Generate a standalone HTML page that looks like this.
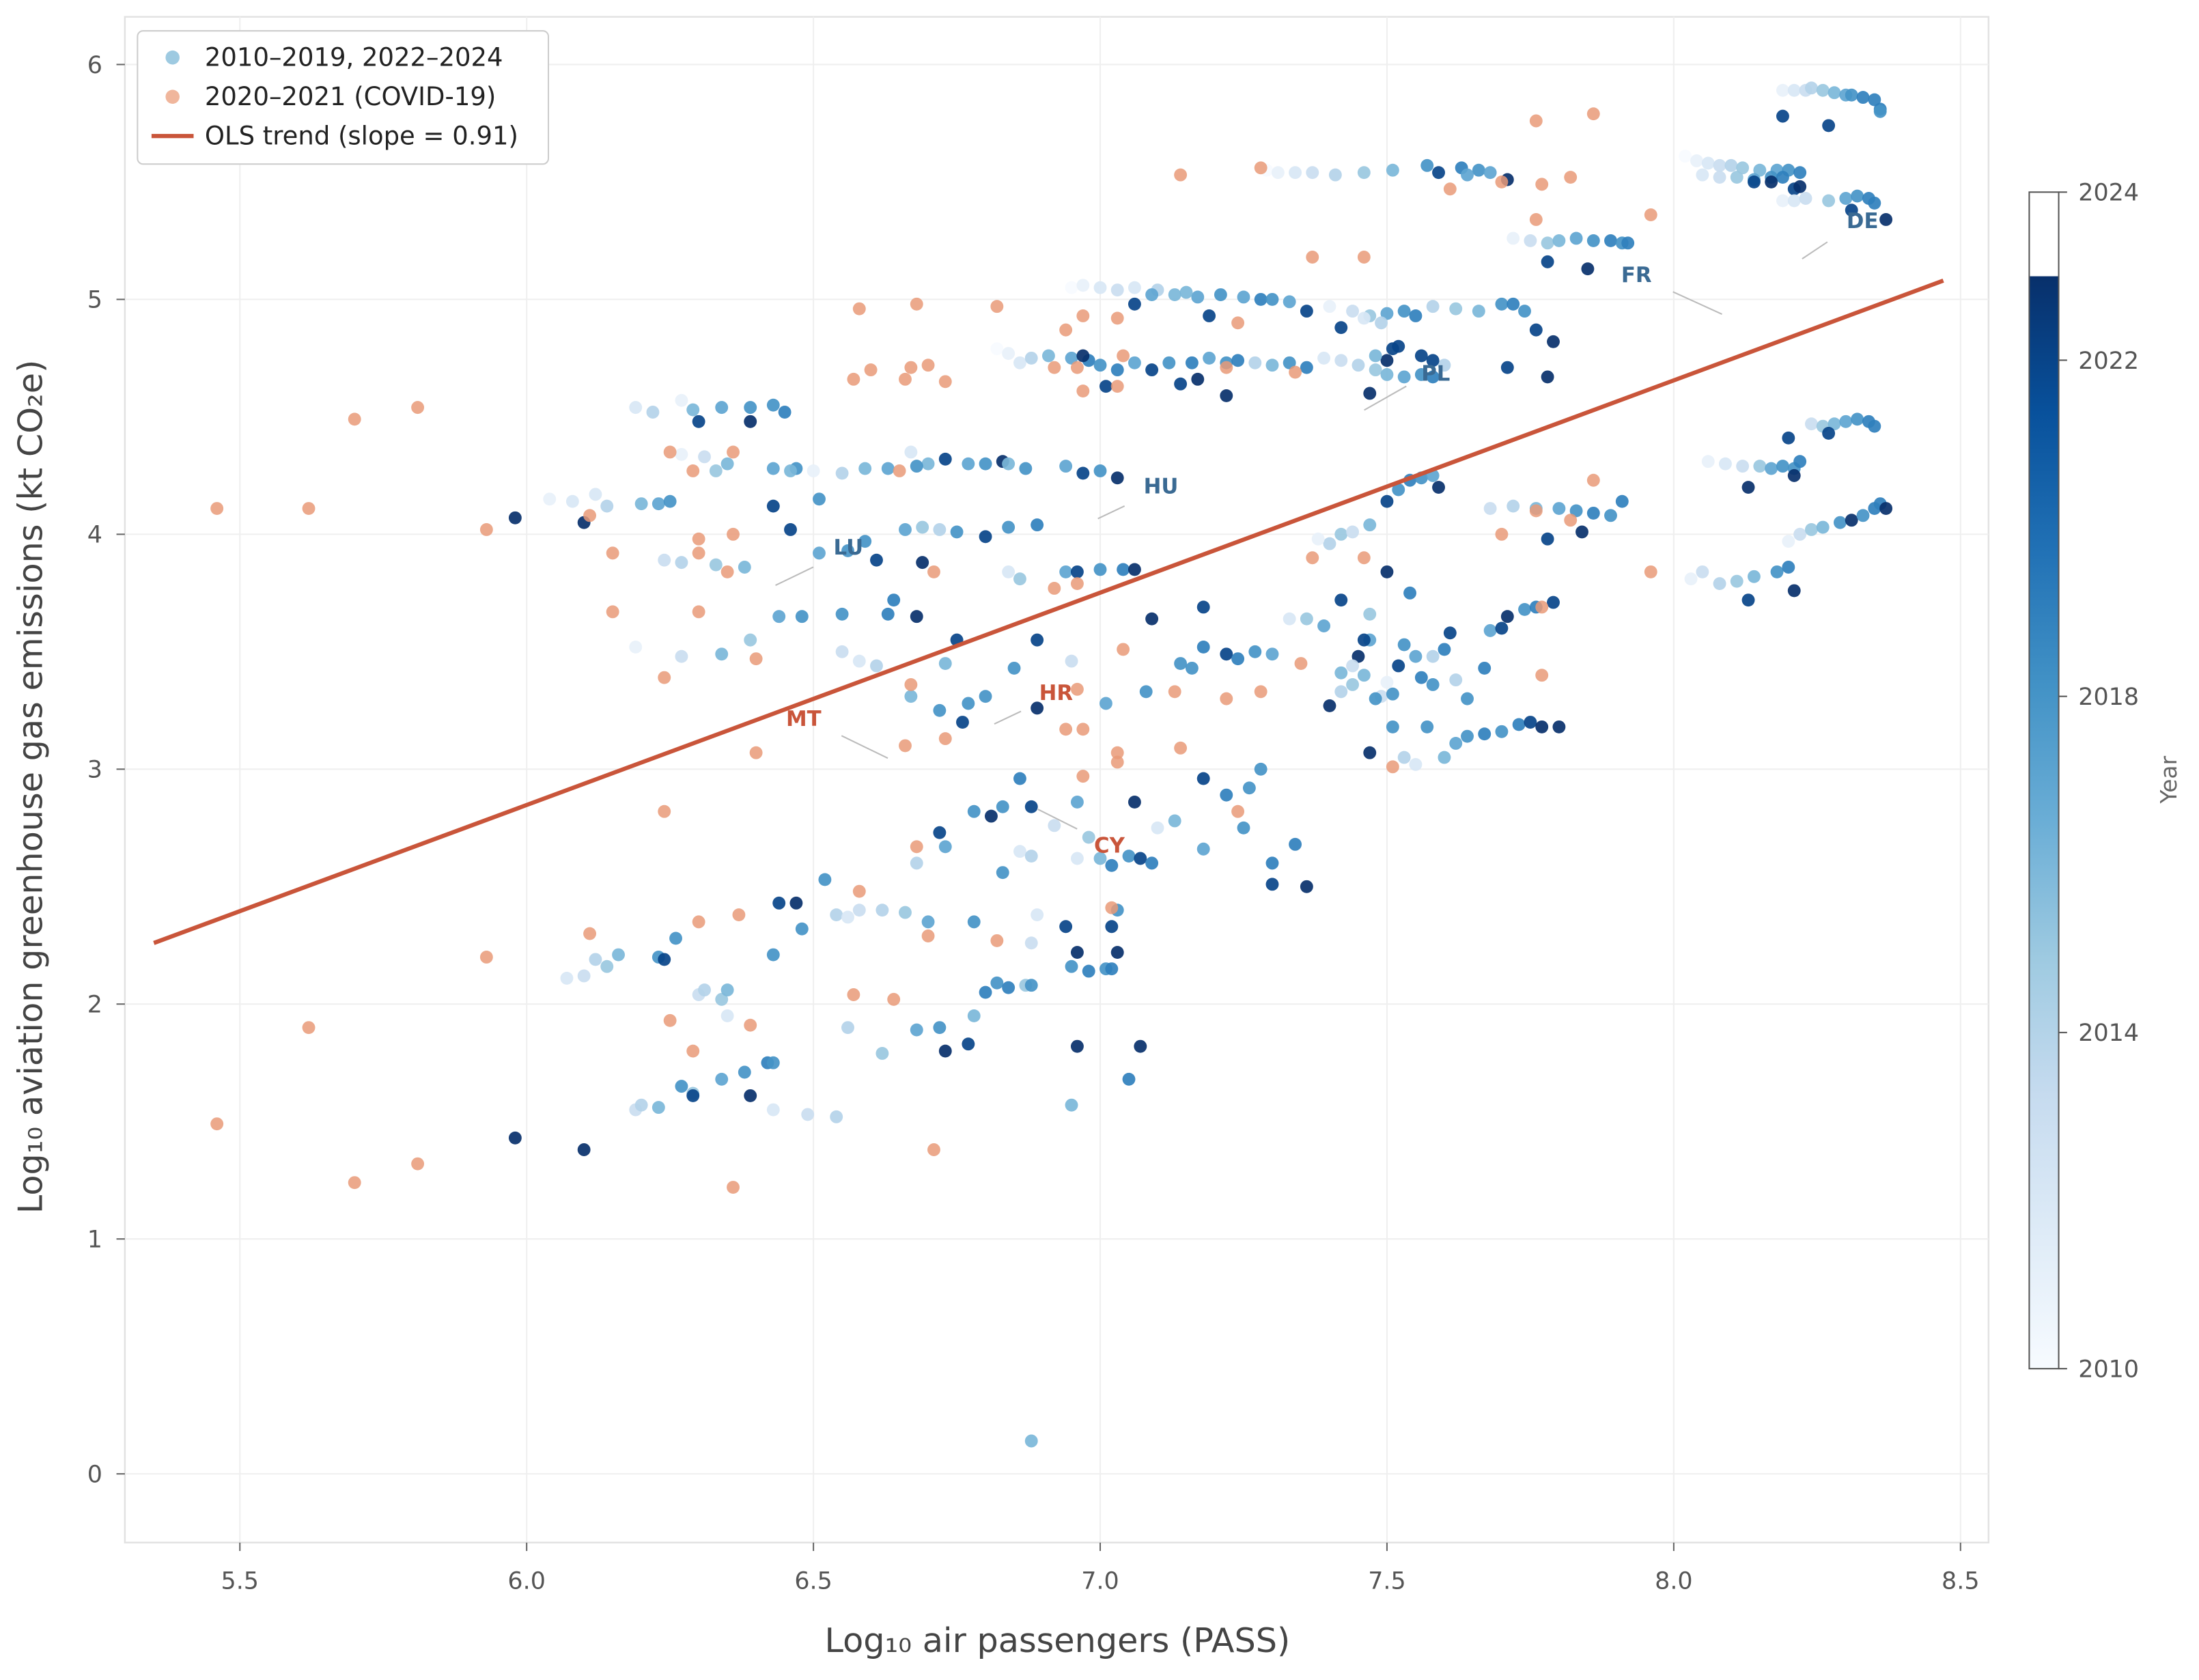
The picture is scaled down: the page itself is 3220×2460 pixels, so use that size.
<!DOCTYPE html>
<html><head><meta charset="utf-8"><style>
html,body{margin:0;padding:0;background:#fff}
svg{display:block;font-family:"DejaVu Sans","Liberation Sans",sans-serif}
</style></head><body>
<svg id="chart" width="3220" height="2460" viewBox="0 0 1568 1198" xmlns="http://www.w3.org/2000/svg">
<defs>
<linearGradient id="cbgrad" x1="0" y1="1" x2="0" y2="0">
<stop offset="0" stop-color="#f7fbff"/><stop offset="0.125" stop-color="#deebf7"/><stop offset="0.25" stop-color="#c6dbef"/><stop offset="0.375" stop-color="#9ecae1"/><stop offset="0.5" stop-color="#6baed6"/><stop offset="0.625" stop-color="#4292c6"/><stop offset="0.75" stop-color="#2171b5"/><stop offset="0.875" stop-color="#08519c"/><stop offset="1" stop-color="#08306b"/>
</linearGradient>
</defs>
<rect x="89" y="12" width="1329" height="1088" fill="#fff" stroke="#e2e2e2" stroke-width="1.2"/>
<g id="grid"></g>
<g id="axes"></g>
<g id="marks"></g>
<g id="labels"></g>
<text x="754" y="1178" text-anchor="middle" font-size="24" fill="#444">Log₁₀ air passengers (PASS)</text>
<text transform="translate(30,561) rotate(-90)" text-anchor="middle" font-size="24" fill="#444">Log₁₀ aviation greenhouse gas emissions (kt CO₂e)</text>
<g>
<rect x="1447" y="197" width="21" height="779" fill="url(#cbgrad)"/>
<rect x="1447" y="137" width="21" height="839" fill="none" stroke="#555" stroke-width="1"/>
<g id="cbticks"></g>
<text transform="translate(1552,556) rotate(-90)" text-anchor="middle" font-size="16" fill="#666">Year</text>
</g>
<g>
<rect x="98" y="22" width="293" height="95" rx="4" fill="#fff" stroke="#ccc" stroke-width="1"/>
<circle cx="123" cy="41" r="5" fill="#9ecae1"/>
<text x="146" y="47" font-size="18" fill="#222">2010–2019, 2022–2024</text>
<circle cx="123" cy="69" r="5" fill="#f0b69c"/>
<text x="146" y="75" font-size="18" fill="#222">2020–2021 (COVID-19)</text>
<line x1="108" y1="97" x2="138" y2="97" stroke="#c9553a" stroke-width="3"/>
<text x="146" y="103" font-size="18" fill="#222">OLS trend (slope = 0.91)</text>
</g>
</svg>
<script>
const xTicks=[5.5,6.0,6.5,7.0,7.5,8.0,8.5];
const yTicks=[0,1,2,3,4,5,6];
const cbTicks=[2010,2014,2018,2022,2024];
const trendX=[5.35,8.47];
const trendY=[2.26,5.08];
const covidX=[5.46,5.62,5.70,5.81,5.93,5.46,5.62,5.70,5.81,5.93,6.11,6.11,6.15,6.15,6.24,6.24,6.25,6.29,6.30,6.30,6.30,6.25,6.29,6.30,6.36,6.36,6.35,6.40,6.40,6.37,6.39,6.36,6.58,6.57,6.60,6.58,6.57,6.64,6.65,6.66,6.67,6.68,6.70,6.73,6.71,6.67,6.66,6.73,6.68,6.70,6.71,6.82,6.92,6.96,6.94,6.97,7.03,6.96,6.97,7.03,7.04,6.92,6.82,6.94,6.97,6.96,6.97,7.03,7.03,7.02,7.04,7.13,7.14,7.14,7.22,7.24,7.22,7.24,7.28,7.28,7.34,7.35,7.37,7.37,7.46,7.46,7.51,7.61,7.70,7.76,7.76,7.77,7.82,7.86,7.76,7.70,7.77,7.77,7.82,7.86,7.96,7.96];
const covidY=[4.11,4.11,4.49,4.54,4.02,1.49,1.90,1.24,1.32,2.20,2.30,4.08,3.92,3.67,3.39,2.82,4.35,4.27,3.98,3.92,3.67,1.93,1.80,2.35,4.35,4.00,3.84,3.47,3.07,2.38,1.91,1.22,4.96,4.66,4.70,2.48,2.04,2.02,4.27,4.66,4.71,4.98,4.72,4.65,3.84,3.36,3.10,3.13,2.67,2.29,1.38,4.97,3.77,3.79,4.87,4.93,4.92,4.71,4.61,4.63,4.76,4.71,2.27,3.17,3.17,3.34,2.97,3.07,3.03,2.41,3.51,3.33,3.09,5.53,3.30,2.82,4.71,4.90,5.56,3.33,4.69,3.45,5.18,3.90,5.18,3.90,3.01,5.47,5.50,5.76,5.34,5.49,5.52,5.79,4.10,4.00,3.69,3.40,4.06,4.23,5.36,3.84];
const pts=[
[8.19,5.89,2011],[8.21,5.89,2012],[8.23,5.89,2013],[8.24,5.90,2014],[8.26,5.89,2015],[8.28,5.88,2016],[8.30,5.87,2017],[8.31,5.87,2018],[8.33,5.86,2019],[8.35,5.85,2019],[8.36,5.81,2019],[8.27,5.74,2022],[8.19,5.78,2022],[8.36,5.80,2018],
[8.02,5.61,2010],[8.04,5.59,2011],[8.06,5.58,2012],[8.08,5.57,2013],[8.10,5.57,2014],[8.12,5.56,2015],[8.15,5.55,2016],[8.18,5.55,2017],[8.20,5.55,2018],[8.22,5.54,2019],[8.05,5.53,2012],[8.08,5.52,2013],[8.11,5.52,2015],[8.14,5.51,2017],[8.17,5.52,2018],[8.19,5.52,2019],[8.14,5.50,2022],[8.21,5.47,2022],[8.22,5.48,2023],[8.17,5.50,2023],
[8.19,5.42,2011],[8.21,5.42,2012],[8.23,5.43,2013],[8.27,5.42,2015],[8.30,5.43,2017],[8.32,5.44,2018],[8.34,5.43,2019],[8.35,5.41,2019],[8.37,5.34,2023],[8.31,5.38,2022],
[7.29,5.55,2010],[7.31,5.54,2011],[7.34,5.54,2012],[7.37,5.54,2013],[7.41,5.53,2014],[7.46,5.54,2015],[7.51,5.55,2016],[7.57,5.57,2018],[7.59,5.54,2022],[7.63,5.56,2019],[7.66,5.55,2018],[7.68,5.54,2017],[7.71,5.51,2023],[7.64,5.53,2017],
[7.72,5.26,2011],[7.75,5.25,2013],[7.78,5.24,2015],[7.80,5.25,2016],[7.83,5.26,2017],[7.86,5.25,2018],[7.89,5.25,2019],[7.91,5.24,2018],[7.92,5.24,2019],[7.78,5.16,2022],[7.85,5.13,2023],
[6.95,5.05,2010],[6.97,5.06,2011],[7.00,5.05,2012],[7.03,5.04,2013],[7.06,5.05,2012],[7.10,5.04,2014],[7.13,5.02,2016],[7.17,5.01,2017],[7.21,5.02,2018],[7.25,5.01,2017],[7.28,5.00,2019],[7.30,5.00,2018],[7.33,4.99,2017],[7.36,4.95,2022],[7.40,4.97,2011],[7.44,4.95,2013],[7.47,4.93,2015],[7.50,4.94,2017],[7.53,4.95,2018],[7.55,4.93,2019],[7.58,4.97,2014],[7.62,4.96,2015],[7.66,4.95,2016],[7.70,4.98,2018],[7.72,4.98,2019],[7.74,4.95,2018],[7.76,4.87,2022],[7.79,4.82,2023],[7.06,4.98,2022],[7.19,4.93,2022],[7.09,5.02,2017],[7.15,5.03,2016],[7.42,4.88,2022],[7.52,4.80,2022],[7.46,4.92,2012],[7.49,4.90,2014],
[6.82,4.79,2010],[6.84,4.77,2011],[6.86,4.73,2012],[6.88,4.75,2014],[6.91,4.76,2016],[6.95,4.75,2017],[6.98,4.74,2019],[6.97,4.76,2023],[7.00,4.72,2018],[7.03,4.70,2019],[7.06,4.73,2017],[7.09,4.70,2022],[7.12,4.73,2018],[7.16,4.73,2019],[7.19,4.75,2017],[7.22,4.73,2018],[7.24,4.74,2019],[7.27,4.73,2014],[7.30,4.72,2016],[7.33,4.73,2018],[7.36,4.71,2019],[7.39,4.75,2012],[7.42,4.74,2013],[7.45,4.72,2014],[7.48,4.70,2015],[7.50,4.68,2016],[7.53,4.67,2017],[7.56,4.68,2018],[7.58,4.67,2019],[7.60,4.72,2014],[7.01,4.63,2022],[7.14,4.64,2022],[7.22,4.59,2023],[7.17,4.66,2023],[7.47,4.60,2023],[7.71,4.71,2022],[7.78,4.67,2023],[7.50,4.74,2023],[7.51,4.79,2022],[7.56,4.76,2022],[7.58,4.74,2022],[7.48,4.76,2016],
[6.04,4.15,2011],[6.08,4.14,2012],[6.12,4.17,2012],[6.14,4.12,2014],[6.20,4.13,2016],[6.23,4.13,2017],[6.25,4.14,2018],[6.27,4.34,2011],[6.31,4.33,2013],[6.33,4.27,2015],[6.35,4.30,2016],[6.43,4.28,2017],[6.47,4.28,2018],[6.50,4.27,2011],[6.55,4.26,2014],[6.59,4.28,2016],[6.63,4.28,2017],[6.67,4.35,2012],[6.70,4.30,2016],[6.73,4.32,2022],[6.77,4.30,2017],[6.80,4.30,2018],[6.83,4.31,2023],[6.87,4.28,2018],[6.94,4.29,2017],[6.97,4.26,2022],[7.00,4.27,2018],[7.03,4.24,2023],[6.84,4.30,2016],[6.68,4.29,2018],
[6.19,4.54,2012],[6.22,4.52,2014],[6.27,4.57,2011],[6.29,4.53,2016],[6.30,4.48,2022],[6.34,4.54,2017],[6.39,4.54,2018],[6.39,4.48,2023],[6.43,4.55,2018],[6.45,4.52,2019],
[6.24,3.89,2013],[6.27,3.88,2014],[6.33,3.87,2015],[6.38,3.86,2016],[6.46,4.02,2022],[6.51,3.92,2017],[6.56,3.93,2018],[6.59,3.97,2018],[6.61,3.89,2022],[6.66,4.02,2017],[6.69,3.88,2023],[6.69,4.03,2015],[6.72,4.02,2014],[6.75,4.01,2018],[6.80,3.99,2022],[6.84,4.03,2018],[6.89,4.04,2019],[6.84,3.84,2012],[6.86,3.81,2015],[6.94,3.84,2017],[6.96,3.84,2022],[7.00,3.85,2018],[7.04,3.85,2019],[7.06,3.85,2023],
[6.19,3.52,2011],[6.27,3.48,2013],[6.34,3.49,2016],[6.39,3.55,2015],[6.44,3.65,2017],[6.48,3.65,2018],[6.55,3.66,2018],[6.58,3.46,2012],[6.63,3.66,2019],[6.64,3.72,2019],[6.68,3.65,2023],[6.61,3.44,2014],[6.55,3.50,2013],[6.75,3.55,2022],[6.73,3.45,2016],
[7.09,3.64,2023],[7.18,3.69,2022],[7.14,3.45,2018],[7.18,3.52,2019],[7.22,3.49,2022],[7.24,3.47,2019],[7.27,3.50,2018],[7.30,3.49,2017],[7.33,3.64,2012],[7.36,3.64,2015],[7.39,3.61,2017],[7.42,3.72,2022],[7.45,3.48,2023],[7.42,3.41,2016],
[7.40,3.27,2023],[7.42,3.33,2014],[7.44,3.36,2015],[7.46,3.40,2016],[7.47,3.55,2017],[7.49,3.31,2013],[7.51,3.32,2018],[7.52,3.44,2022],[7.53,3.53,2018],[7.55,3.48,2017],[7.56,3.39,2019],[7.58,3.36,2018],[7.60,3.51,2019],[7.62,3.38,2014],[7.64,3.30,2018],[7.67,3.43,2019],[7.68,3.59,2017],[7.70,3.60,2022],[7.71,3.65,2023],[7.74,3.68,2018],[7.76,3.69,2019],[7.79,3.71,2022],[7.50,3.84,2023],[7.54,3.75,2019],[7.47,3.66,2015],[7.46,3.55,2022],[7.58,3.48,2014],[7.61,3.58,2022],[7.44,3.44,2013],[7.48,3.30,2018],
[7.51,3.18,2018],[7.53,3.05,2014],[7.55,3.02,2012],[7.57,3.18,2018],[7.60,3.05,2016],[7.62,3.11,2017],[7.64,3.14,2018],[7.67,3.15,2019],[7.70,3.16,2018],[7.73,3.19,2019],[7.75,3.20,2022],[7.77,3.18,2023],[7.80,3.18,2023],[7.47,3.07,2023],[7.50,3.37,2011],
[7.40,3.96,2014],[7.42,4.00,2015],[7.44,4.01,2013],[7.47,4.04,2016],[7.50,4.14,2022],[7.52,4.19,2018],[7.54,4.23,2019],[7.56,4.24,2018],[7.58,4.25,2017],[7.59,4.20,2023],[7.38,3.98,2011],
[7.68,4.11,2013],[7.72,4.12,2014],[7.76,4.11,2016],[7.80,4.11,2017],[7.83,4.10,2018],[7.86,4.09,2019],[7.89,4.08,2018],[7.91,4.14,2019],[7.78,3.98,2022],[7.84,4.01,2023],
[8.06,4.31,2011],[8.09,4.30,2012],[8.12,4.29,2013],[8.15,4.29,2015],[8.17,4.28,2017],[8.19,4.29,2018],[8.21,4.28,2018],[8.22,4.31,2019],[8.24,4.47,2013],[8.26,4.46,2015],[8.28,4.47,2016],[8.30,4.48,2017],[8.32,4.49,2018],[8.34,4.48,2019],[8.35,4.46,2019],[8.20,4.41,2022],[8.13,4.20,2023],[8.21,4.25,2023],[8.27,4.43,2022],
[8.20,3.97,2011],[8.22,4.00,2013],[8.24,4.02,2015],[8.26,4.03,2016],[8.29,4.05,2018],[8.31,4.06,2023],[8.33,4.08,2018],[8.35,4.11,2019],[8.36,4.13,2019],[8.37,4.11,2023],
[8.03,3.81,2011],[8.05,3.84,2013],[8.08,3.79,2014],[8.11,3.80,2015],[8.14,3.82,2016],[8.18,3.84,2018],[8.20,3.86,2019],[8.13,3.72,2022],[8.21,3.76,2023],
[6.58,2.40,2013],[6.62,2.40,2014],[6.66,2.39,2015],[6.70,2.35,2017],[6.78,2.35,2018],[6.83,2.56,2018],[6.86,2.65,2012],[6.88,2.63,2014],[6.92,2.76,2013],[6.96,2.62,2012],[6.98,2.71,2015],[7.00,2.62,2016],[7.02,2.59,2019],[7.05,2.63,2018],[7.07,2.62,2022],[7.09,2.60,2019],[7.10,2.75,2012],[7.13,2.78,2016],[7.18,2.66,2017],[7.06,2.86,2023],[7.18,2.96,2022],[7.22,2.89,2019],[7.26,2.92,2018],[7.28,3.00,2018],[7.25,2.75,2018],[7.30,2.60,2019],[7.34,2.68,2019],[7.30,2.51,2022],[7.36,2.50,2023],[6.88,2.84,2022],[6.86,2.96,2019],[6.83,2.84,2018],[6.78,2.82,2018],[6.81,2.80,2023],[6.72,2.73,2022],[6.73,2.67,2017],[6.68,2.60,2014],[6.96,2.86,2017],[6.85,3.43,2018],[6.77,3.28,2018],[6.72,3.25,2018],[6.89,3.26,2023],[6.89,3.55,2022],[6.76,3.20,2022],[6.67,3.31,2016],[6.80,3.31,2018],[6.95,3.46,2013],[7.01,3.28,2017],[7.08,3.33,2018],[7.16,3.43,2018],
[6.89,2.38,2012],[6.88,2.26,2013],[6.94,2.33,2022],[6.96,2.22,2023],[6.95,2.16,2018],[6.98,2.14,2019],[7.01,2.15,2018],[7.02,2.15,2019],[7.03,2.22,2023],[7.02,2.33,2022],[7.03,2.40,2018],[6.96,1.82,2023],[7.05,1.68,2019],[7.07,1.82,2023],[6.95,1.57,2016],[6.88,0.14,2016],
[6.56,1.90,2014],[6.62,1.79,2015],[6.68,1.89,2017],[6.72,1.90,2018],[6.73,1.80,2023],[6.77,1.83,2022],[6.78,1.95,2016],[6.80,2.05,2019],[6.82,2.09,2018],[6.84,2.07,2019],[6.87,2.08,2015],[6.88,2.08,2018],
[6.07,2.11,2012],[6.10,2.12,2013],[6.12,2.19,2014],[6.14,2.16,2015],[6.16,2.21,2016],[6.23,2.20,2018],[6.24,2.19,2022],[6.26,2.28,2018],[6.30,2.04,2013],[6.31,2.06,2014],[6.34,2.02,2015],[6.35,2.06,2016],[6.35,1.95,2012],[6.43,2.21,2018],[6.44,2.43,2022],[6.47,2.43,2023],[6.48,2.32,2018],[6.52,2.53,2018],[6.54,2.38,2014],[6.56,2.37,2012],
[6.19,1.55,2013],[6.20,1.57,2014],[6.23,1.56,2016],[6.27,1.65,2018],[6.29,1.62,2015],[6.29,1.61,2022],[6.34,1.68,2017],[6.38,1.71,2018],[6.39,1.61,2023],[6.43,1.55,2012],[6.49,1.53,2013],[6.54,1.52,2014],[6.42,1.75,2019],[6.43,1.75,2018],
[5.98,1.43,2023],[6.10,1.38,2023],[5.98,4.07,2023],[6.10,4.05,2023],[6.43,4.12,2022],[6.51,4.15,2018],[6.46,4.27,2016]
];
const countryLabels=["FR","DE","PL","HU","LU","MT","HR","CY"];
const labelX=[7.935,8.329,7.585,7.106,6.561,6.483,6.923,7.016];
const labelY=[5.11,5.34,4.69,4.21,3.95,3.22,3.33,2.68];
const labelCovid=[false,false,false,false,false,true,true,true];

const X0=171,X1=1398,Y0=1051,Y1=46;
const sx=v=>X0+(v-5.5)*(X1-X0)/3;
const sy=v=>Y0-(v)*(Y0-Y1)/6;
const cy=v=>976-(v-2010)*(976-137)/14;
const NS="http://www.w3.org/2000/svg";
function mk(tag,attrs,parent){const e=document.createElementNS(NS,tag);for(const k in attrs)e.setAttribute(k,attrs[k]);parent.appendChild(e);return e;}
const stops=[[247,251,255],[222,235,247],[198,219,239],[158,202,225],[107,174,214],[66,146,198],[33,113,181],[8,81,156],[8,48,107]];
function blues(t){t=Math.max(0,Math.min(1,t));const p=t*8,i=Math.min(7,Math.floor(p)),f=p-i;const a=stops[i],b=stops[i+1];return `rgb(${Math.round(a[0]+(b[0]-a[0])*f)},${Math.round(a[1]+(b[1]-a[1])*f)},${Math.round(a[2]+(b[2]-a[2])*f)})`;}
const grid=document.getElementById('grid'),axes=document.getElementById('axes'),marks=document.getElementById('marks'),labs=document.getElementById('labels');
xTicks.forEach(v=>{
 const g=mk('line',{x1:sx(v),x2:sx(v),y1:12,y2:1100,stroke:'#efefef','stroke-width':1},grid);
 
 
 const t=mk('line',{x1:sx(v),x2:sx(v),y1:1100,y2:1106,stroke:'#666','stroke-width':1},axes);
 
 
 const l=mk('text',{x:sx(v),y:1133,'text-anchor':'middle','font-size':17,fill:'#555'},axes);l.textContent=v.toFixed(1);
 
 
});
yTicks.forEach(v=>{
 const g=mk('line',{x1:89,x2:1418,y1:sy(v),y2:sy(v),stroke:'#efefef','stroke-width':1},grid);
 
 
 const t=mk('line',{x1:83,x2:89,y1:sy(v),y2:sy(v),stroke:'#666','stroke-width':1},axes);
 
 
 const l=mk('text',{x:73,y:sy(v)+6,'text-anchor':'end','font-size':17,fill:'#555'},axes);l.textContent=v;
 
 
});
const cbt=document.getElementById('cbticks');
cbTicks.forEach(v=>{
 const t=mk('line',{x1:1468,x2:1474,y1:cy(v),y2:cy(v),stroke:'#555','stroke-width':1},cbt);
 
 
 const l=mk('text',{x:1482,y:cy(v)+6,'font-size':17,fill:'#555'},cbt);l.textContent=v;
 
 
});
pts.forEach(p=>{
 const c=mk('circle',{cx:sx(p[0]),cy:sy(p[1]),r:4.6,fill:blues((p[2]-2010)/13),'fill-opacity':0.92},marks);
 
 
});
covidX.forEach((x,i)=>{
 const c=mk('circle',{cx:sx(x),cy:sy(covidY[i]),r:4.6,fill:'#e99a78','fill-opacity':0.85},marks);
 
 
});
const tl=mk('line',{x1:sx(trendX[0]),y1:sy(trendY[0]),x2:sx(trendX[1]),y2:sy(trendY[1]),stroke:'#c9553a','stroke-width':3},marks);


const lead=[[26,13,61,29],[-25,16,-43,28],[-21,10,-51,27],[-26,15,-45,24],[-25,15,-52,28],[27,13,60,29],[-25,14,-44,23],[-23,-11,-51,-25]];
countryLabels.forEach((n,i)=>{
 const px=sx(labelX[i]),py=sy(labelY[i]);
 const L=lead[i];
 const ll=mk('line',{x1:px+L[0],y1:py+L[1],x2:px+L[2],y2:py+L[3],stroke:'#bbb','stroke-width':1},labs);
 
 
 const col=labelCovid[i]?'#c9553a':'#3a6a93';
 const t=mk('text',{x:px,y:py+6,'text-anchor':'middle','font-size':15,'font-weight':'bold',fill:col},labs);
 t.textContent=n;
 
 
});
</script>
</body></html>
